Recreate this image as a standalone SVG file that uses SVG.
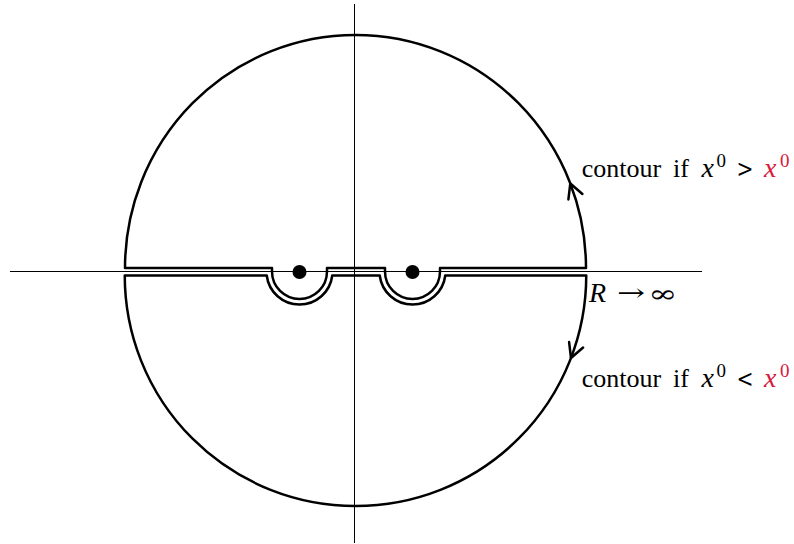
<svg xmlns="http://www.w3.org/2000/svg" width="794" height="544" viewBox="0 0 794 544">
  <style>
    .axis { stroke: #000; stroke-width: 1; fill: none; }
    .contour { stroke: #000; stroke-width: 2.5; fill: none; stroke-linejoin: round; }
    .arrow { stroke: #000; stroke-width: 2.5; fill: none; stroke-linecap: round; stroke-linejoin: round; }
    .pole { fill: #000; }
    .t { font-family: "Liberation Serif", "Times New Roman", serif; font-size: 26px; fill: #000; }
    .m { font-family: "Liberation Serif", "Times New Roman", serif; font-style: italic; font-size: 28px; }
    .rel { font-family: "DejaVu Serif", "Liberation Serif", serif; font-size: 24px; }
    .sup { font-family: "Liberation Serif", "Times New Roman", serif; font-size: 19px; }
    .red { fill: #d9183b; }
  </style>
  <rect width="794" height="544" fill="#fff"/>
  <g id="axes">
    <line class="axis" x1="10" y1="271.5" x2="702" y2="271.5"/>
    <line class="axis" x1="354.5" y1="4" x2="354.5" y2="543"/>
  </g>
  <g id="connectors">
    <path id="contour-upper" class="contour" d="M 586,268 A 230.5 233 0 0 0 125,268 L 272,268 L 272,271.5 A 27.5 27.5 0 0 0 327,271.5 L 327,268 L 385,268 L 385,271.5 A 27.5 27.5 0 0 0 440,271.5 L 440,268 Z"/>
    <path id="contour-lower" class="contour" d="M 586.25,275.5 L 445.26,275.5 A 33 33 0 0 1 379.74,275.5 L 332.26,275.5 A 33 33 0 0 1 266.74,275.5 L 124.75,275.5 A 230.75 230.5 0 0 0 586.25,275.5 Z"/>
    <path id="arrow-upper" class="arrow" d="M 568.4,199.4 L 570.3,183.5 L 582.4,194"/>
    <path id="arrow-lower" class="arrow" d="M 569.1,342.1 L 571,358 L 583.1,347.5"/>
  </g>
  <g id="poles">
    <circle id="pole-1" class="pole" cx="299.5" cy="272" r="7"/>
    <circle id="pole-2" class="pole" cx="412.5" cy="272" r="7"/>
  </g>
  <g id="label-upper">
    <text class="t" x="581.7" y="177">contour</text>
    <text class="t" x="673" y="177">if</text>
    <text class="m" x="701.5" y="177">x</text>
    <text class="sup" x="716.5" y="167">0</text>
    <text class="rel" x="745" y="177" text-anchor="middle" textLength="17" lengthAdjust="spacingAndGlyphs">&gt;</text>
    <text class="m red" x="764" y="177">x</text>
    <text class="sup red" x="780" y="167">0</text>
  </g>
  <g id="label-radius">
    <text class="m" x="589" y="302">R</text>
    <text class="rel" x="617" y="301" textLength="28" lengthAdjust="spacingAndGlyphs">→</text>
    <text class="rel" x="648" y="302" textLength="29" lengthAdjust="spacingAndGlyphs">∞</text>
  </g>
  <g id="label-lower">
    <text class="t" x="581.7" y="387">contour</text>
    <text class="t" x="673" y="387">if</text>
    <text class="m" x="701.5" y="387">x</text>
    <text class="sup" x="716.5" y="377">0</text>
    <text class="rel" x="745" y="387" text-anchor="middle" textLength="17" lengthAdjust="spacingAndGlyphs">&lt;</text>
    <text class="m red" x="764" y="387">x</text>
    <text class="sup red" x="780" y="377">0</text>
  </g>
</svg>
